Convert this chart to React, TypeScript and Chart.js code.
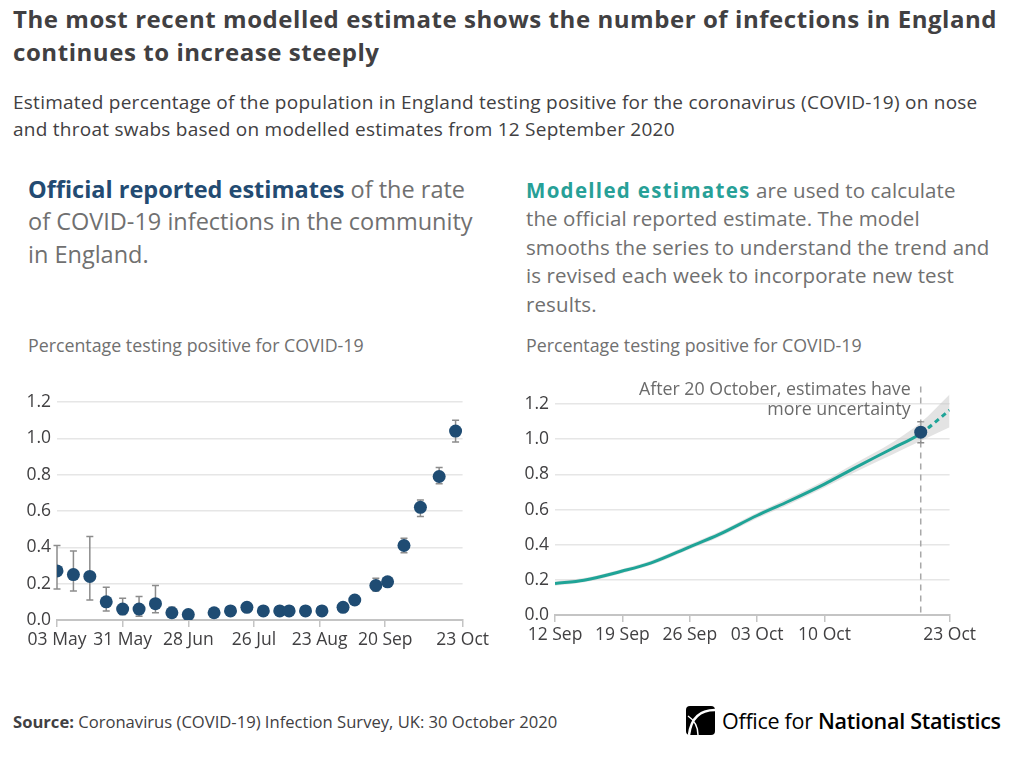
import React, { useEffect, useRef } from 'react';
import { Chart, registerables } from 'chart.js';

Chart.register(...registerables);

const FONT = "'Open Sans', sans-serif";
const TEXT_DARK = '#414042';
const TEXT_GREY = '#707070';
const NAVY = '#1f4c73';
const TEAL = '#1fa497';

// ---------- Left chart: official reported estimates ----------
const officialOrigin = '2020-05-03';
const officialDates = [
  '2020-05-03', '2020-05-10', '2020-05-17', '2020-05-24', '2020-05-31', '2020-06-07',
  '2020-06-14', '2020-06-21', '2020-06-28', '2020-07-09', '2020-07-16', '2020-07-23',
  '2020-07-30', '2020-08-06', '2020-08-10', '2020-08-17', '2020-08-24', '2020-09-02',
  '2020-09-07', '2020-09-16', '2020-09-21', '2020-09-28', '2020-10-05', '2020-10-13',
  '2020-10-20',
];
const officialValues = [
  0.27, 0.25, 0.24, 0.10, 0.06, 0.06, 0.09, 0.04, 0.03, 0.04, 0.05, 0.07,
  0.05, 0.05, 0.05, 0.05, 0.05, 0.07, 0.11, 0.19, 0.21, 0.41, 0.62, 0.79, 1.04,
];
const officialLower = [
  0.17, 0.16, 0.11, 0.05, 0.03, 0.02, 0.04, 0.015, 0.02, 0.03, 0.04, 0.06,
  0.04, 0.04, 0.04, 0.04, 0.04, 0.06, 0.10, 0.16, 0.19, 0.37, 0.57, 0.75, 0.98,
];
const officialUpper = [
  0.41, 0.38, 0.46, 0.18, 0.12, 0.13, 0.19, 0.07, 0.045, 0.05, 0.06, 0.08,
  0.06, 0.06, 0.06, 0.06, 0.06, 0.085, 0.125, 0.23, 0.23, 0.45, 0.66, 0.84, 1.10,
];
const officialTickDates = ['2020-05-03', '2020-05-31', '2020-06-28', '2020-07-26', '2020-08-23', '2020-09-20', '2020-10-23'];
const officialTickLabels = ['03 May', '31 May', '28 Jun', '26 Jul', '23 Aug', '20 Sep', '23 Oct'];

// ---------- Right chart: modelled estimates ----------
const modelOrigin = '2020-09-12';
const modelDates = [
  '2020-09-12', '2020-09-15', '2020-09-19', '2020-09-22', '2020-09-26', '2020-09-29',
  '2020-10-03', '2020-10-06', '2020-10-10', '2020-10-13', '2020-10-17', '2020-10-20',
  '2020-10-23',
];
const modelCentral = [0.179, 0.198, 0.25, 0.297, 0.388, 0.457, 0.566, 0.64, 0.745, 0.833, 0.946, 1.033, 1.166];
const modelLower = [0.167, 0.186, 0.238, 0.284, 0.374, 0.442, 0.55, 0.622, 0.725, 0.808, 0.912, 0.99, 1.068];
const modelUpper = [0.191, 0.21, 0.262, 0.31, 0.402, 0.472, 0.582, 0.658, 0.765, 0.858, 0.98, 1.095, 1.255];
const modelTickDates = ['2020-09-12', '2020-09-19', '2020-09-26', '2020-10-03', '2020-10-10', '2020-10-23'];
const modelTickLabels = ['12 Sep', '19 Sep', '26 Sep', '03 Oct', '10 Oct', '23 Oct'];
const latestDate = '2020-10-20';
const latestValue = [1.04];
const latestLower = [0.98];
const latestUpper = [1.10];
const uncertaintyStart = '2020-10-20';
const annotationLines = ['After 20 October, estimates have', 'more uncertainty'];

const yTickValues = [0, 0.2, 0.4, 0.6, 0.8, 1.0, 1.2];

const DAY = 86400000;
const toDay = (d: string, origin: string) => (Date.parse(d) - Date.parse(origin)) / DAY;

const errorBarPlugin = {
  id: 'errorBars',
  beforeDatasetsDraw(chart: any) {
    const { ctx } = chart;
    const ys = chart.scales.y;
    chart.data.datasets.forEach((ds: any, i: number) => {
      if (!ds.errLow) return;
      const meta = chart.getDatasetMeta(i);
      ctx.save();
      ctx.strokeStyle = '#8c8c8c';
      ctx.lineWidth = 1.5;
      meta.data.forEach((pt: any, j: number) => {
        const x = pt.x;
        const y1 = ys.getPixelForValue(ds.errLow[j]);
        const y2 = ys.getPixelForValue(ds.errHigh[j]);
        ctx.beginPath();
        ctx.moveTo(x, y1);
        ctx.lineTo(x, y2);
        ctx.moveTo(x - 3.5, y1);
        ctx.lineTo(x + 3.5, y1);
        ctx.moveTo(x - 3.5, y2);
        ctx.lineTo(x + 3.5, y2);
        ctx.stroke();
      });
      ctx.restore();
    });
  },
};

const tickFont = { family: FONT, size: 17.5 };

function xScale(origin: string, endDate: string, tickDates: string[], tickLabels: string[]) {
  return {
    type: 'linear',
    min: 0,
    max: toDay(endDate, origin),
    afterBuildTicks: (s: any) => {
      s.ticks = tickDates.map((d) => ({ value: toDay(d, origin) }));
    },
    afterFit: (s: any) => {
      s.height = 40;
    },
    ticks: {
      callback: (_v: any, i: number) => tickLabels[i],
      font: tickFont,
      color: TEXT_DARK,
      autoSkip: false,
      maxRotation: 0,
      padding: 3,
    },
    grid: { drawOnChartArea: false, drawTicks: true, tickLength: 7, color: '#c4c4c4', lineWidth: 1.5 },
    border: { display: true, color: '#c4c4c4', width: 2 },
  };
}

function yScale(max: number) {
  return {
    min: 0,
    max,
    afterBuildTicks: (s: any) => {
      s.ticks = yTickValues.map((v) => ({ value: v }));
    },
    afterFit: (s: any) => {
      s.width = 57;
    },
    ticks: {
      callback: (v: any) => Number(v).toFixed(1),
      font: tickFont,
      color: TEXT_DARK,
      padding: 6,
    },
    grid: { color: '#e6e6e6', lineWidth: 1.5, drawTicks: false },
    border: { display: false },
  };
}

function LeftChart() {
  const ref = useRef<HTMLCanvasElement>(null);
  useEffect(() => {
    const chart = new Chart(ref.current as HTMLCanvasElement, {
      type: 'line',
      data: {
        datasets: [
          {
            data: officialDates.map((d, i) => ({ x: toDay(d, officialOrigin), y: officialValues[i] })),
            showLine: false,
            pointRadius: 6.5,
            pointBackgroundColor: NAVY,
            pointBorderWidth: 0,
            errLow: officialLower,
            errHigh: officialUpper,
          } as any,
        ],
      },
      options: {
        animation: false,
        responsive: false,
        events: [],
        layout: { padding: { top: 32, left: 0, right: 0, bottom: 0 } },
        plugins: { legend: { display: false }, tooltip: { enabled: false } },
        scales: {
          x: xScale(officialOrigin, '2020-10-23', officialTickDates, officialTickLabels) as any,
          y: yScale(1.2) as any,
        },
      },
      plugins: [errorBarPlugin],
    });
    return () => chart.destroy();
  }, []);
  return <canvas ref={ref} width={492} height={290} style={{ position: 'absolute', left: 0, top: 370, width: 492, height: 290 }} />;
}

function RightChart() {
  const ref = useRef<HTMLCanvasElement>(null);
  useEffect(() => {
    const splitDay = toDay(uncertaintyStart, modelOrigin);
    const markerPlugin = {
      id: 'marker',
      beforeDatasetsDraw(chart: any) {
        const { ctx, chartArea } = chart;
        const x = chart.scales.x.getPixelForValue(toDay(latestDate, modelOrigin));
        ctx.save();
        ctx.strokeStyle = '#a8a8a8';
        ctx.lineWidth = 1.5;
        ctx.setLineDash([6, 5]);
        ctx.beginPath();
        ctx.moveTo(x, chartArea.top);
        ctx.lineTo(x, chartArea.bottom);
        ctx.stroke();
        ctx.restore();
      },
      afterDraw(chart: any) {
        const { ctx, chartArea } = chart;
        const x = chart.scales.x.getPixelForValue(toDay(latestDate, modelOrigin));
        ctx.save();
        ctx.font = `17.8px ${FONT}`;
        ctx.fillStyle = '#6b6b6b';
        ctx.textAlign = 'right';
        ctx.textBaseline = 'middle';
        annotationLines.forEach((t, i) => ctx.fillText(t, x - 10, chartArea.top + 3 + i * 20.5));
        ctx.restore();
      },
    };
    const chart = new Chart(ref.current as HTMLCanvasElement, {
      type: 'line',
      data: {
        datasets: [
          {
            data: modelDates.map((d, i) => ({ x: toDay(d, modelOrigin), y: modelLower[i] })),
            borderWidth: 0,
            borderColor: 'rgba(0,0,0,0)',
            pointRadius: 0,
            cubicInterpolationMode: 'monotone',
            fill: false,
            order: 4,
          },
          {
            data: modelDates.map((d, i) => ({ x: toDay(d, modelOrigin), y: modelUpper[i] })),
            borderWidth: 0,
            borderColor: 'rgba(0,0,0,0)',
            backgroundColor: 'rgba(200,200,200,0.5)',
            pointRadius: 0,
            cubicInterpolationMode: 'monotone',
            fill: '-1',
            order: 3,
          },
          {
            data: modelDates.map((d, i) => ({ x: toDay(d, modelOrigin), y: modelCentral[i] })),
            borderColor: TEAL,
            borderWidth: 3,
            pointRadius: 0,
            cubicInterpolationMode: 'monotone',
            fill: false,
            order: 2,
            segment: {
              borderDash: (c: any) => (c.p0.parsed.x >= splitDay ? [5, 4] : undefined),
            },
          },
          {
            data: latestValue.map((v) => ({ x: toDay(latestDate, modelOrigin), y: v })),
            showLine: false,
            pointRadius: 6.5,
            pointBackgroundColor: NAVY,
            pointBorderWidth: 0,
            order: 1,
            errLow: latestLower,
            errHigh: latestUpper,
          } as any,
        ],
      },
      options: {
        animation: false,
        responsive: false,
        events: [],
        layout: { padding: { top: 14, left: 0, right: 0, bottom: 0 } },
        plugins: { legend: { display: false }, tooltip: { enabled: false } },
        scales: {
          x: xScale(modelOrigin, '2020-10-23', modelTickDates, modelTickLabels) as any,
          y: yScale(1.3) as any,
        },
      },
      plugins: [markerPlugin, errorBarPlugin],
    });
    return () => chart.destroy();
  }, []);
  return <canvas ref={ref} width={481} height={285} style={{ position: 'absolute', left: 498, top: 370, width: 481, height: 285 }} />;
}

function OnsLogo() {
  return (
    <div style={{ position: 'absolute', left: 686, top: 704, height: 32, display: 'flex', alignItems: 'center' }}>
      <svg width="29" height="29" viewBox="0 0 29 29" style={{ marginRight: 7 }}>
        <rect x="0" y="0" width="29" height="29" rx="4" fill="#000" />
        <path d="M29 4 C 14 4, 5 12, 3 29" stroke="#fff" strokeWidth="2.5" fill="none" />
        <path d="M2 10 C 8 14, 12 20, 12 29" stroke="#fff" strokeWidth="1.5" fill="none" />
      </svg>
      <span style={{ fontFamily: FONT, fontSize: 21.5, color: '#000', letterSpacing: -0.28, whiteSpace: 'nowrap' }}>
        Office for <b style={{ fontWeight: 600 }}>National Statistics</b>
      </span>
    </div>
  );
}

export default function App() {
  const abs = (l: number, t: number, extra: any = {}) => ({ position: 'absolute' as const, left: l, top: t, fontFamily: FONT, whiteSpace: 'nowrap' as const, ...extra });
  return (
    <div style={{ position: 'absolute', left: 0, top: 0, width: 1010, height: 761, background: '#fff', overflow: 'hidden' }}>
      <div style={abs(13, 1.5, { fontSize: 24, letterSpacing: 0.56, fontWeight: 700, lineHeight: '33px', color: TEXT_DARK })}>
        The most recent modelled estimate shows the number of infections in England
        <br />
        continues to increase steeply
      </div>
      <div style={abs(13, 88.5, { fontSize: 19, letterSpacing: 0.25, lineHeight: '27px', color: TEXT_DARK })}>
        Estimated percentage of the population in England testing positive for the coronavirus (COVID-19) on nose
        <br />
        and throat swabs based on modelled estimates from 12 September 2020
      </div>
      <div style={abs(28, 173, { fontSize: 23.5, lineHeight: '32.3px', color: TEXT_GREY })}>
        <b style={{ color: '#234b72', fontWeight: 700 }}>Official reported estimates</b> of the rate
        <br />
        of COVID-19 infections in the community
        <br />
        in England.
      </div>
      <div style={abs(526, 176, { fontSize: 20.5, letterSpacing: 0.1, lineHeight: '28.4px', color: TEXT_GREY })}>
        <b style={{ color: '#27a097', fontWeight: 700, letterSpacing: 1.3 }}>Modelled estimates</b> are used to calculate
        <br />
        the official reported estimate. The model
        <br />
        smooths the series to understand the trend and
        <br />
        is revised each week to incorporate new test
        <br />
        results.
      </div>
      <div style={abs(28, 334, { fontSize: 17.8, lineHeight: '22px', color: TEXT_GREY })}>Percentage testing positive for COVID-19</div>
      <div style={abs(526, 334, { fontSize: 17.8, lineHeight: '22px', color: TEXT_GREY })}>Percentage testing positive for COVID-19</div>
      <LeftChart />
      <RightChart />
      <div style={abs(13, 711, { fontSize: 16.6, lineHeight: '22px', color: TEXT_DARK })}>
        <b>Source:</b> Coronavirus (COVID-19) Infection Survey, UK: 30 October 2020
      </div>
      <OnsLogo />
    </div>
  );
}
